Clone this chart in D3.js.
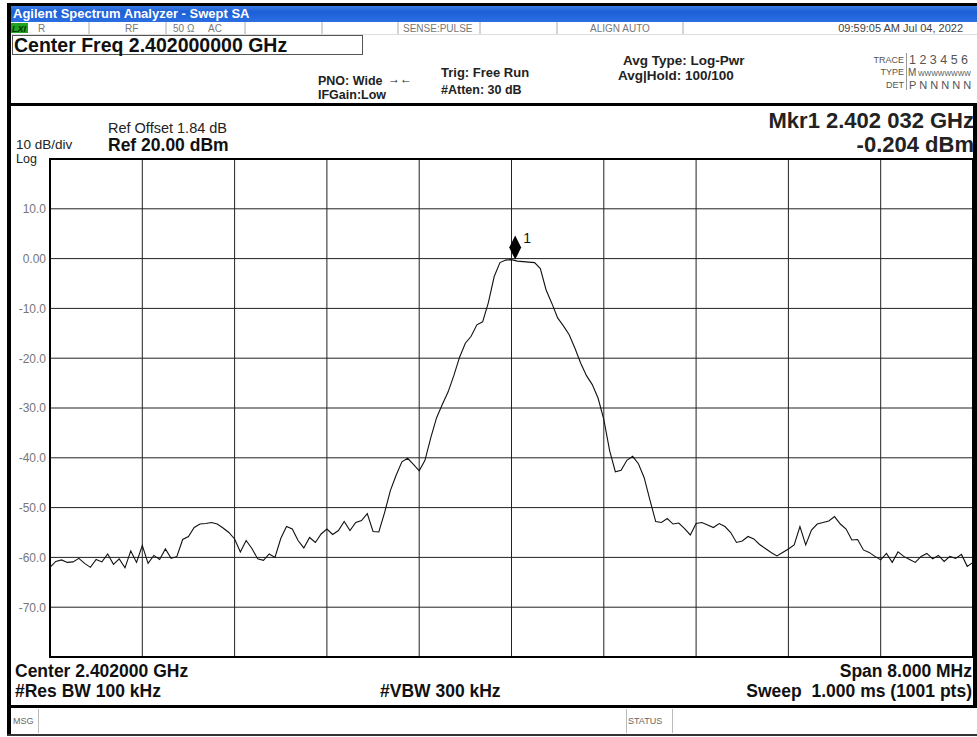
<!DOCTYPE html>
<html><head><meta charset="utf-8">
<script src="https://cdn.jsdelivr.net/npm/d3@7"></script>
<style>body{margin:0;background:#fff}svg{display:block}</style>
</head><body>
<script>
// ---------- data ----------
const freqStart = -4, freqStep = 0.05; // MHz offset from center
const traceDbm = [
-62.0,-60.8,-60.5,-61.0,-60.9,-60.2,-61.2,-62.0,-60.4,-60.9,
-59.3,-61.4,-60.3,-62.1,-58.7,-61.0,-57.6,-61.2,-59.6,-60.4,
-58.3,-60.2,-59.8,-56.4,-55.8,-54.0,-53.3,-53.2,-53.0,-53.3,
-54.1,-55.0,-56.3,-58.9,-56.6,-58.2,-60.3,-60.6,-59.3,-60.0,
-56.2,-53.8,-54.3,-56.6,-58.1,-56.0,-57.0,-55.3,-54.3,-55.4,
-54.6,-52.8,-54.6,-53.0,-52.6,-51.2,-54.8,-54.9,-51.0,-46.6,
-43.5,-40.8,-40.1,-41.3,-42.6,-40.5,-36.0,-32.0,-29.3,-26.8,
-23.5,-19.8,-17.0,-15.6,-13.3,-12.7,-8.8,-3.6,-0.8,-0.3,
-0.2,-0.5,-0.6,-0.7,-0.8,-2.0,-6.3,-9.0,-11.9,-13.5,
-15.3,-18.0,-21.0,-23.5,-25.3,-28.0,-32.3,-38.5,-42.8,-42.5,
-40.5,-39.7,-41.2,-44.0,-48.5,-52.8,-53.0,-52.2,-53.3,-53.1,
-54.2,-55.5,-53.2,-53.0,-53.5,-54.0,-53.2,-53.8,-55.0,-57.0,
-56.7,-55.8,-56.3,-57.4,-58.2,-59.0,-59.7,-59.0,-58.3,-57.5,
-53.8,-57.5,-54.5,-53.3,-53.0,-52.7,-51.8,-53.3,-54.3,-56.5,
-56.4,-58.5,-59.0,-59.8,-60.5,-59.2,-61.0,-58.9,-59.8,-60.4,
-61.0,-59.8,-59.2,-60.3,-59.6,-60.8,-59.8,-60.2,-59.4,-61.8,
-61.0];
const yTickValues = [10,0,-10,-20,-30,-40,-50,-60,-70];
const yTickLabels = ["10.0","0.00","-10.0","-20.0","-30.0","-40.0","-50.0","-60.0","-70.0"];
const markerFreq = 0.032, markerLevel = -0.204, markerLabel = "1";
const statusItems = [["R",38],["RF",125],["50 Ω",173],["AC",208],["SENSE:PULSE",403],["ALIGN AUTO",590]];
const statusSeps = [89,166,245,322,398,480,557,683];

// ---------- layout ----------
const W = 977, H = 737;
const svg = d3.select("body").append("svg").attr("width", W).attr("height", H);
const F = "'Liberation Sans', Arial, sans-serif";

const x = d3.scaleLinear().domain([-4, 4]).range([50, 973]);
const y = d3.scaleLinear().domain([-80, 20]).range([657, 159]);

// title bar
const defs = svg.append("defs");
const g1 = defs.append("linearGradient").attr("id","tb").attr("x1",0).attr("y1",0).attr("x2",0).attr("y2",1);
g1.append("stop").attr("offset","0%").attr("stop-color","#3d7fe6");
g1.append("stop").attr("offset","35%").attr("stop-color","#1c5fd6");
g1.append("stop").attr("offset","100%").attr("stop-color","#2a6fe2");
svg.append("rect").attr("x",7).attr("y",3).attr("width",W-7).attr("height",3).attr("fill","#000");
svg.append("rect").attr("x",7).attr("y",6).attr("width",W-7).attr("height",16).attr("fill","url(#tb)");
svg.append("text").attr("x",13).attr("y",18).attr("fill","#fff").attr("font-family",F)
  .attr("font-size",13).attr("font-weight","bold").text("Agilent Spectrum Analyzer - Swept SA");

// left frame bar
svg.append("rect").attr("x",7).attr("y",3).attr("width",4).attr("height",733).attr("fill","#000");

// status row
svg.append("rect").attr("x",11).attr("y",23).attr("width",17).attr("height",10).attr("fill","#22a322");
svg.append("text").attr("x",12).attr("y",32).attr("font-family",F).attr("font-size",9).attr("font-weight","bold")
  .attr("font-style","italic").attr("fill","#003300").text("LXI");
statusSeps.forEach(s => svg.append("line").attr("x1",s).attr("x2",s).attr("y1",22).attr("y2",34).attr("stroke","#aaa"));
svg.append("line").attr("x1",11).attr("x2",W).attr("y1",34.5).attr("y2",34.5).attr("stroke","#ddd");
statusItems.forEach(([t, px]) => svg.append("text").attr("x",px).attr("y",32).attr("font-family",F)
  .attr("font-size",10).attr("fill","#777").text(t));
svg.append("text").attr("x",963).attr("y",32).attr("text-anchor","end").attr("font-family",F)
  .attr("font-size",11).attr("fill","#444").text("09:59:05 AM Jul 04, 2022");

// Center Freq box
svg.append("rect").attr("x",12.5).attr("y",35.5).attr("width",350).attr("height",19).attr("fill","none").attr("stroke","#555");
svg.append("text").attr("x",14).attr("y",52).attr("font-family",F).attr("font-size",19.5).attr("font-weight","bold")
  .attr("fill","#111").text("Center Freq 2.402000000 GHz");

// header info
const hdr = (t, px, py, sz, anchor) => svg.append("text").attr("x",px).attr("y",py).attr("font-family",F)
  .attr("font-size",sz).attr("font-weight","bold").attr("fill","#222").attr("text-anchor",anchor||"start").text(t);
hdr("PNO: Wide", 318, 85, 12.5);
hdr("IFGain:Low", 318, 99, 12.5);
svg.append("text").attr("x",388).attr("y",83).attr("font-family",F).attr("font-size",12).attr("fill","#222").text("→←");
hdr("Trig: Free Run", 441, 77, 13);
hdr("#Atten: 30 dB", 441, 94, 12.5);
hdr("Avg Type: Log-Pwr", 623, 65, 13.5);
hdr("Avg|Hold: 100/100", 618, 80, 13.5);

// trace info box
const sm = (t, px, py, sz, anchor, col) => svg.append("text").attr("x",px).attr("y",py).attr("font-family",F)
  .attr("font-size",sz).attr("fill",col||"#555").attr("text-anchor",anchor||"start").text(t);
sm("TRACE", 904, 63, 9, "end");
sm("TYPE", 904, 75, 9, "end");
sm("DET", 904, 88, 9, "end");
svg.append("line").attr("x1",906.5).attr("x2",906.5).attr("y1",53).attr("y2",90).attr("stroke","#999");
sm("1 2 3 4 5 6", 909, 64, 12.5, "start", "#555");
sm("M", 908, 76, 10, "start", "#555");
sm("WWWWWWWW", 918, 76, 7, "start", "#555");
sm("P N N N N N", 909, 89, 11, "start", "#555");

// separator under header
svg.append("rect").attr("x",7).attr("y",103).attr("width",W-7).attr("height",3).attr("fill","#000");
// right frame
svg.append("rect").attr("x",973).attr("y",103).attr("width",4).attr("height",605).attr("fill","#000");

// ref text
sm("Ref Offset 1.84 dB", 108, 133, 14.5, "start", "#222");
svg.append("text").attr("x",108).attr("y",151).attr("font-family",F).attr("font-size",17.5)
  .attr("font-weight","bold").attr("fill","#111").text("Ref 20.00 dBm");
sm("10 dB/div", 16, 149, 13.5, "start", "#222");
sm("Log", 16, 163, 12.5, "start", "#222");

// marker readout
svg.append("text").attr("x",974).attr("y",128).attr("text-anchor","end").attr("font-family",F)
  .attr("font-size",22).attr("font-weight","bold").attr("fill","#222").text("Mkr1 2.402 032 GHz");
svg.append("text").attr("x",974).attr("y",152).attr("text-anchor","end").attr("font-family",F)
  .attr("font-size",22).attr("font-weight","bold").attr("fill","#222").text("-0.204 dBm");

// grid
const plot = svg.append("g");
plot.selectAll(".vg").data(d3.range(-3.2, 4, 0.8)).join("line")
  .attr("x1", d => x(d)).attr("x2", d => x(d)).attr("y1", y(20)).attr("y2", y(-80))
  .attr("stroke","#222").attr("stroke-width",1);
plot.selectAll(".hg").data(d3.range(-70, 20, 10)).join("line")
  .attr("x1", x(-4)).attr("x2", x(4)).attr("y1", d => y(d)).attr("y2", d => y(d))
  .attr("stroke","#222").attr("stroke-width",1);
plot.append("rect").attr("x",x(-4)).attr("y",y(20)).attr("width",x(4)-x(-4)).attr("height",y(-80)-y(20))
  .attr("fill","none").attr("stroke","#000").attr("stroke-width",2);

// y tick labels via axis
const yAxis = d3.axisLeft(y).tickValues(yTickValues).tickFormat((d,i) => yTickLabels[i]).tickSize(0).tickPadding(4);
const ya = svg.append("g").attr("transform",`translate(${x(-4)},0)`).call(yAxis);
ya.select(".domain").remove();
ya.selectAll("text").attr("font-family",F).attr("font-size",12).attr("fill","#777");

// trace
const line = d3.line().x((d,i) => x(freqStart + i*freqStep)).y(d => y(d));
plot.append("path").datum(traceDbm).attr("d", line).attr("fill","none").attr("stroke","#111").attr("stroke-width",1.1);

// marker
const mx = x(markerFreq), my = y(markerLevel);
plot.append("path").attr("d", `M${mx},${my} L${mx+6},${my-12} L${mx},${my-24} L${mx-6},${my-12} Z`).attr("fill","#000");
svg.append("text").attr("x",mx+8).attr("y",my-17).attr("font-family",F).attr("font-size",14).attr("fill","#111").text(markerLabel);

// bottom info
const bt = (t, px, py, anchor) => svg.append("text").attr("x",px).attr("y",py).attr("font-family",F)
  .attr("font-size",17.5).attr("font-weight","bold").attr("fill","#111").attr("text-anchor",anchor||"start").text(t);
bt("Center 2.402000 GHz", 15, 677);
bt("#Res BW 100 kHz", 15, 697);
bt("#VBW 300 kHz", 380, 697);
bt("Span 8.000 MHz", 972, 677, "end");
bt("Sweep  1.000 ms (1001 pts)", 972, 697, "end").style("white-space","pre");

svg.append("rect").attr("x",7).attr("y",705).attr("width",W-7).attr("height",3).attr("fill","#000");
svg.append("rect").attr("x",7).attr("y",734).attr("width",W-7).attr("height",2).attr("fill","#333");
sm("MSG", 13, 724, 9, "start", "#666");
svg.append("line").attr("x1",38.5).attr("x2",38.5).attr("y1",709).attr("y2",733).attr("stroke","#bbb");
sm("STATUS", 628, 724, 9, "start", "#666");
svg.append("line").attr("x1",626.5).attr("x2",626.5).attr("y1",709).attr("y2",733).attr("stroke","#bbb");
svg.append("line").attr("x1",672.5).attr("x2",672.5).attr("y1",709).attr("y2",733).attr("stroke","#bbb");
</script>
</body></html>
